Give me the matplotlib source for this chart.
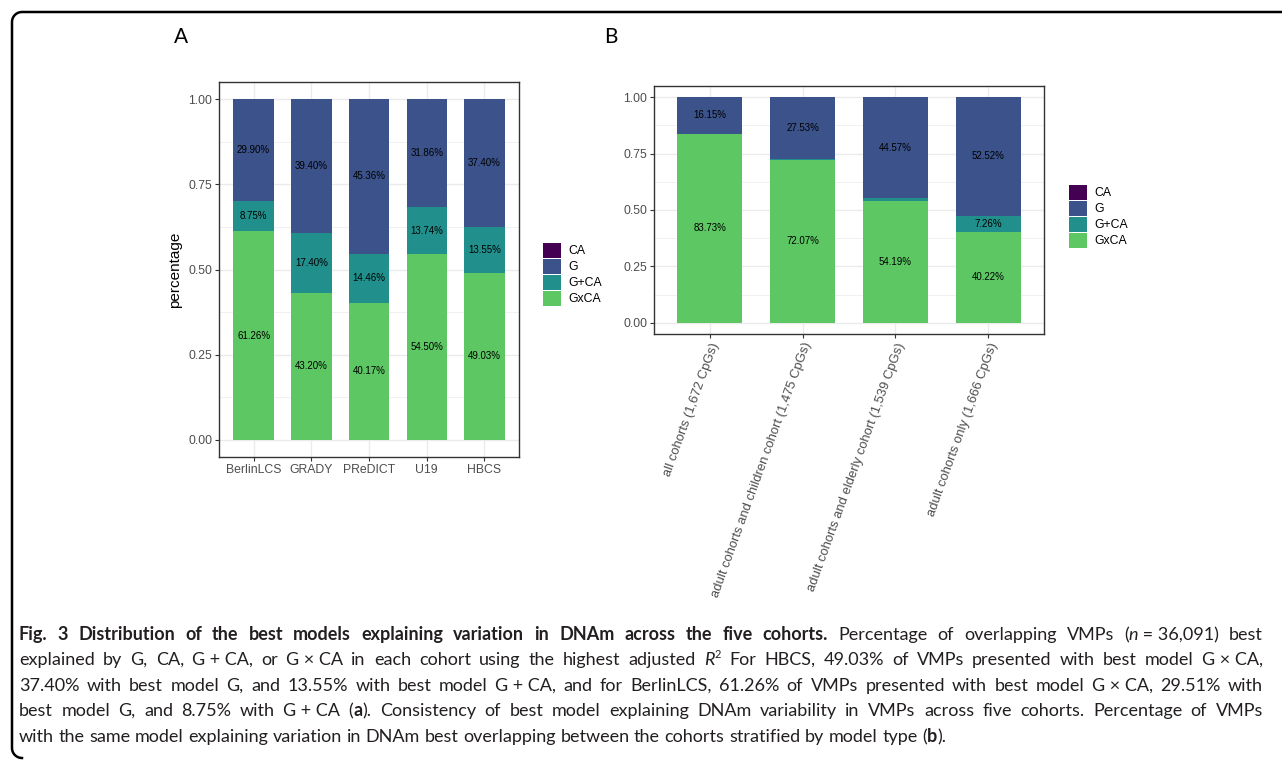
import numpy as np
import matplotlib.pyplot as plt
from matplotlib.patches import Patch
from matplotlib.lines import Line2D

# panel A: best model per cohort (percent)
cohorts = ["BerlinLCS", "GRADY", "PReDICT", "U19", "HBCS"]
a_gxca = [61.26, 43.20, 40.17, 54.50, 49.03]
a_gca = [8.75, 17.40, 14.46, 13.74, 13.55]
a_g = [29.90, 39.40, 45.36, 31.86, 37.40]
a_ca = [0.09, 0.00, 0.01, 0.00, 0.02]

# panel B: same best model shared between cohorts (percent)
overlaps = ["all cohorts (1,672 CpGs)",
            "adult cohorts and children cohort (1,475 CpGs)",
            "adult cohorts and elderly cohort (1,539 CpGs)",
            "adult cohorts only (1,666 CpGs)"]
b_gxca = [83.73, 72.07, 54.19, 40.22]
b_gca = [0.12, 0.40, 1.24, 7.26]
b_g = [16.15, 27.53, 44.57, 52.52]
b_ca = [0.00, 0.00, 0.00, 0.00]

models = ["CA", "G", "G+CA", "GxCA"]
colors = {"CA": "#440154", "G": "#3B528B", "G+CA": "#21908C", "GxCA": "#5DC863"}

caption = [
    [("Fig. 3 Distribution of the best models explaining variation in DNAm across the five cohorts.", "b"),
     (" Percentage of overlapping VMPs (", "r"), ("n", "i"), ("\u00a0=\u00a036,091) best", "r")],
    [("explained by G, CA, G\u00a0+\u00a0CA, or G\u00a0\u00d7\u00a0CA in each cohort using the highest adjusted ", "r"),
     ("R", "i"), ("2", "sup"), (" For HBCS, 49.03% of VMPs presented with best model G\u00a0\u00d7\u00a0CA,", "r")],
    [("37.40% with best model G, and 13.55% with best model G\u00a0+\u00a0CA, and for BerlinLCS, 61.26% of VMPs "
      "presented with best model G\u00a0\u00d7\u00a0CA, 29.51% with", "r")],
    [("best model G, and 8.75% with G\u00a0+\u00a0CA (", "r"), ("a", "b"),
     ("). Consistency of best model explaining DNAm variability in VMPs across five cohorts. Percentage of VMPs", "r")],
    [("with the same model explaining variation in DNAm best overlapping between the cohorts stratified by model type (", "r"),
     ("b", "b"), (").", "r")],
]

W, H = 1282, 761
plt.rcParams['font.family'] = ['Liberation Sans', 'DejaVu Sans']
fig = plt.figure(figsize=(W / 100, H / 100), dpi=100)


def px_axes(left, top, right, bottom):
    return fig.add_axes([left / W, 1 - bottom / H, (right - left) / W, (bottom - top) / H])


def stacked(ax, cats, series):
    x = np.arange(len(cats))
    bottom = np.zeros(len(cats))
    for name in ["GxCA", "G+CA", "G", "CA"]:
        vals = np.array(series[name]) / 100
        ax.bar(x, vals, 0.7, bottom=bottom, color=colors[name], linewidth=0, zorder=2)
        for xi, b, v in zip(x, bottom, vals):
            if v >= 0.02:
                ax.text(xi, b + v / 2, f"{v * 100:.2f}%", ha="center", va="center",
                        fontsize=7, color="black", zorder=3)
        bottom += vals
    ax.set_xlim(-0.6, len(cats) - 0.4)
    ax.set_ylim(-0.05, 1.05)
    ticks = [0, 0.25, 0.5, 0.75, 1.0]
    ax.set_yticks(ticks)
    ax.set_yticklabels([f"{t:.2f}" for t in ticks])
    ax.set_yticks(np.arange(0.125, 1, 0.25), minor=True)
    ax.set_xticks(x)
    ax.grid(which="major", color="#EBEBEB", lw=1.0)
    ax.grid(which="minor", axis="y", color="#EBEBEB", lw=0.5)
    ax.set_axisbelow(True)
    for s in ax.spines.values():
        s.set_color("#333333")
        s.set_linewidth(1.0)
    ax.tick_params(which="major", length=3, width=0.8, color="#333333",
                   labelsize=8.8, labelcolor="#4D4D4D", pad=2)
    ax.tick_params(which="minor", length=0)


def legend_at(left, top):
    handles = [Patch(facecolor=colors[m], edgecolor="none") for m in models]
    fig.legend(handles, models, loc="upper left", bbox_to_anchor=(left / W, 1 - top / H),
               frameon=False, fontsize=8.8, handlelength=1.48, handleheight=1.48,
               labelspacing=0.1, handletextpad=0.62, borderpad=0, borderaxespad=0)


# Panel A
axA = px_axes(219, 82, 519, 457)
stacked(axA, cohorts, {"GxCA": a_gxca, "G+CA": a_gca, "G": a_g, "CA": a_ca})
axA.set_xticklabels(cohorts)
axA.set_ylabel("percentage", fontsize=11, labelpad=4)
legend_at(543, 243)

# Panel B
axB = px_axes(654, 86, 1044, 334)
stacked(axB, overlaps, {"GxCA": b_gxca, "G+CA": b_gca, "G": b_g, "CA": b_ca})
axB.set_xticklabels(overlaps, rotation=70, ha="right", va="top", rotation_mode="anchor",
                    fontsize=9.4)
legend_at(1069, 185)

cap_font = ["Lato", "DejaVu Sans"]
fig.text(181 / W, 1 - 37 / H, "A", fontsize=15, family=cap_font, ha="center", va="center")
fig.text(611 / W, 1 - 37 / H, "B", fontsize=15, family=cap_font, ha="center", va="center")

# frame around the figure (open to the right)
r = 10
th1 = np.linspace(np.pi / 2, np.pi, 20)
th2 = np.linspace(np.pi, 1.5 * np.pi, 20)
fx = np.concatenate([[W + 5], 12 + r + r * np.cos(th1), 12 + r + r * np.cos(th2)])
fy = np.concatenate([[12], 12 + r - r * np.sin(th1), 758 - r - r * np.sin(th2)])
fig.add_artist(Line2D(fx / W, 1 - fy / H, color="black", lw=1.8, transform=fig.transFigure))

# justified caption
renderer = fig.canvas.get_renderer()
cap_left, cap_right = 19, 1263
baselines = [640, 665, 691, 716, 742]


def words_of(line):
    words = [[]]
    for text, st in line:
        parts = text.split(" ")
        for k, p in enumerate(parts):
            if k > 0:
                words.append([])
            if p:
                words[-1].append((p, st))
    return [w for w in words if w]


def seg_text(text, st, fs):
    kw = dict(fontsize=fs, family=cap_font, color="#231F20", ha="left", va="baseline")
    if st == "b":
        kw["weight"] = "bold"
    if st == "i":
        kw["style"] = "italic"
    if st == "sup":
        kw["fontsize"] = fs * 0.62
    return fig.text(0, 0, text, **kw)


def measure(fs):
    out = []
    for line in caption:
        row = []
        for w in words_of(line):
            segs = []
            for text, st in w:
                t = seg_text(text, st, fs)
                segs.append((t, st, t.get_window_extent(renderer).width))
            row.append(segs)
        out.append(row)
    probe = seg_text("a a", "r", fs)
    probe2 = seg_text("aa", "r", fs)
    space = probe.get_window_extent(renderer).width - probe2.get_window_extent(renderer).width
    probe.remove()
    probe2.remove()
    return out, space


fs = 13.0
rows, space = measure(fs)
need = max(sum(s[2] for w in row for s in w) + (len(row) - 1) * space * 0.9 for row in rows)
if need > cap_right - cap_left:
    for row in rows:
        for w in row:
            for s in w:
                s[0].remove()
    fs *= (cap_right - cap_left) / need
    rows, space = measure(fs)

for i, row in enumerate(rows):
    total = sum(s[2] for w in row for s in w)
    gap = space if i == len(rows) - 1 else (cap_right - cap_left - total) / (len(row) - 1)
    x = cap_left
    y = baselines[i]
    for w in row:
        for t, st, wd in w:
            yy = y - fs * 0.55 if st == "sup" else y
            t.set_position((x / W, 1 - yy / H))
            x += wd
        x += gap

fig.savefig("out.png", dpi=100)
